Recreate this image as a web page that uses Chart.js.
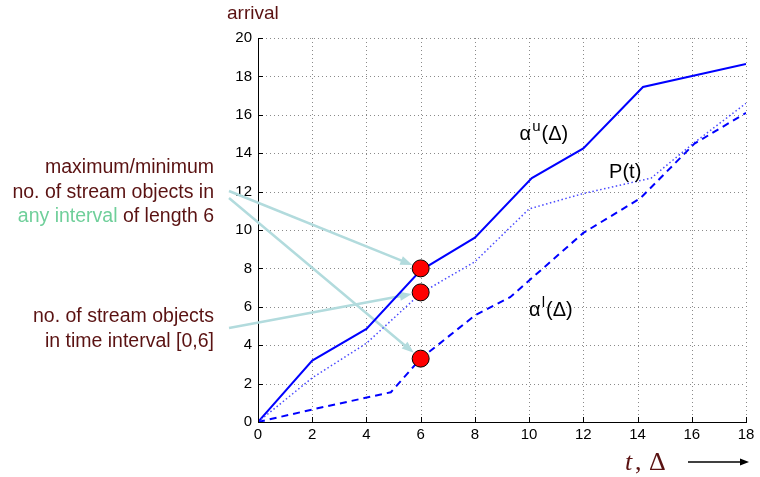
<!DOCTYPE html>
<html>
<head>
<meta charset="utf-8">
<script src="https://cdn.jsdelivr.net/npm/chart.js@4.4.1/dist/chart.umd.min.js"></script>
<style>
  html, body { margin: 0; padding: 0; background: #fff; }
  #wrap { width: 760px; height: 477px; }
</style>
</head>
<body>
<div id="wrap"><canvas id="c" width="760" height="477"></canvas></div>
<script>
// Upper arrival curve alpha^u(Delta)
const upperT = [0, 2, 4, 6, 8, 10.1, 12, 14.2, 18];
const upperV = [0, 3.2, 4.85, 7.9, 9.6, 12.7, 14.25, 17.45, 18.65];

// Cumulative stream P(t)
const streamT = [0, 2, 4, 6, 8, 10, 12, 14.5, 16, 18];
const streamV = [0, 2.3, 4.1, 6.7, 8.35, 11.1, 11.9, 12.7, 14.45, 16.6];

// Lower arrival curve alpha^l(Delta)
const lowerT = [0, 2, 4.9, 6, 8, 9.3, 12, 14.1, 16.1, 18];
const lowerV = [0, 0.65, 1.55, 3.3, 5.55, 6.5, 9.85, 11.65, 14.5, 16.1];

// Values at interval length 6: max, P(6), min
const markT = [6, 6, 6];
const markV = [8, 6.75, 3.3];

// Axis ticks
const xTicks = [0, 2, 4, 6, 8, 10, 12, 14, 16, 18];
const yTicks = [0, 2, 4, 6, 8, 10, 12, 14, 16, 18, 20];

const toXY = (xs, ys) => xs.map((x, i) => ({ x: x, y: ys[i] }));

const FONT = '"Liberation Sans", Arial, Helvetica, sans-serif';
const MAROON = '#5a1212';
const GREEN = '#6fcf9a';
const CALLOUT = '#b2dbdd';

// Dotted grid lines and callout arrows, both behind the curves
const underlay = {
  id: 'underlay',
  beforeDatasetsDraw(chart) {
    const { ctx, chartArea: a, scales: { x, y } } = chart;
    ctx.save();
    ctx.strokeStyle = '#8a8a8a';
    ctx.lineWidth = 1;
    ctx.setLineDash([1, 3]);
    ctx.beginPath();
    xTicks.forEach(v => {
      if (v === xTicks[0]) return;
      const px = Math.round(x.getPixelForValue(v)) + 0.5;
      ctx.moveTo(px, a.top);
      ctx.lineTo(px, a.bottom);
    });
    yTicks.forEach(v => {
      if (v === yTicks[0]) return;
      const py = Math.round(y.getPixelForValue(v)) + 0.5;
      ctx.moveTo(a.left, py);
      ctx.lineTo(a.right, py);
    });
    ctx.stroke();
    ctx.setLineDash([]);

    // callout arrows from the text to the marked values
    const arrow = (sx, sy, vx, vy) => {
      const cx = x.getPixelForValue(vx), cy = y.getPixelForValue(vy);
      const dx = cx - sx, dy = cy - sy;
      const len = Math.hypot(dx, dy);
      const ux = dx / len, uy = dy / len;
      const tx = cx - ux * 9, ty = cy - uy * 9;
      const hl = 12, hw = 4.5;
      ctx.strokeStyle = CALLOUT;
      ctx.fillStyle = CALLOUT;
      ctx.lineWidth = 2.5;
      ctx.beginPath();
      ctx.moveTo(sx, sy);
      ctx.lineTo(tx - ux * hl * 0.8, ty - uy * hl * 0.8);
      ctx.stroke();
      ctx.beginPath();
      ctx.moveTo(tx, ty);
      ctx.lineTo(tx - ux * hl - uy * hw, ty - uy * hl + ux * hw);
      ctx.lineTo(tx - ux * hl + uy * hw, ty - uy * hl - ux * hw);
      ctx.closePath();
      ctx.fill();
    };
    arrow(229, 191, markT[0], markV[0]);
    arrow(229, 198, markT[2], markV[2]);
    arrow(229, 328, markT[1], markV[1]);
    ctx.restore();
  }
};

// Inward tick marks on the left and bottom axes
const innerTicks = {
  id: 'innerTicks',
  afterDatasetsDraw(chart) {
    const { ctx, chartArea: a, scales: { x, y } } = chart;
    ctx.save();
    ctx.strokeStyle = '#000';
    ctx.lineWidth = 1;
    ctx.beginPath();
    xTicks.forEach(v => {
      const px = Math.round(x.getPixelForValue(v)) + 0.5;
      ctx.moveTo(px, a.bottom);
      ctx.lineTo(px, a.bottom - 5);
    });
    yTicks.forEach(v => {
      const py = Math.round(y.getPixelForValue(v)) + 0.5;
      ctx.moveTo(a.left, py);
      ctx.lineTo(a.left + 5, py);
    });
    ctx.stroke();
    ctx.restore();
  }
};

// Curve labels, callout text and axis captions
const annotations = {
  id: 'annotations',
  afterDraw(chart) {
    const { ctx, scales: { x, y } } = chart;
    ctx.save();

    // curve names
    const curveLabel = (base, sup, rest, vx, vy) => {
      let px = x.getPixelForValue(vx), py = y.getPixelForValue(vy);
      ctx.fillStyle = '#000';
      ctx.textBaseline = 'alphabetic';
      ctx.textAlign = 'left';
      ctx.font = '20px ' + FONT;
      ctx.fillText(base, px, py);
      px += ctx.measureText(base).width + 1;
      if (sup) {
        ctx.font = '15px ' + FONT;
        ctx.fillText(sup, px, py - 9);
        px += ctx.measureText(sup).width + 1;
      }
      ctx.font = '20px ' + FONT;
      ctx.fillText(rest, px, py);
    };
    curveLabel('\u03b1', 'u', '(\u0394)', 9.65, 14.7);
    curveLabel('\u03b1', 'l', '(\u0394)', 10.0, 5.5);
    curveLabel('P(t)', '', '', 12.95, 12.7);

    // callout text
    ctx.font = '19.5px ' + FONT;
    ctx.textBaseline = 'middle';
    ctx.textAlign = 'right';
    ctx.fillStyle = MAROON;
    const rx = 214;
    ctx.fillText('maximum/minimum', rx, 168);
    ctx.fillText('no. of stream objects in', rx, 193);
    const tail = ' of length 6';
    ctx.fillText(tail, rx, 217);
    ctx.fillStyle = GREEN;
    ctx.fillText('any interval', rx - ctx.measureText(tail).width, 217);
    ctx.fillStyle = MAROON;
    ctx.fillText('no. of stream objects', rx, 317);
    ctx.fillText('in time interval [0,6]', rx, 342);

    // y-axis caption
    ctx.font = '19px ' + FONT;
    ctx.textAlign = 'left';
    ctx.textBaseline = 'alphabetic';
    ctx.fillText('arrival', 227, 19);

    // x-axis caption
    ctx.font = 'italic 26px "Liberation Serif", "DejaVu Serif", serif';
    ctx.fillText('t', 625, 470);
    ctx.font = '26px "Liberation Serif", "DejaVu Serif", serif';
    ctx.fillText(',', 635, 470);
    ctx.fillText('\u0394', 649, 470);

    // direction arrow
    ctx.strokeStyle = '#000';
    ctx.fillStyle = '#000';
    ctx.lineWidth = 1.5;
    ctx.beginPath();
    ctx.moveTo(688, 462);
    ctx.lineTo(742, 462);
    ctx.stroke();
    ctx.beginPath();
    ctx.moveTo(749, 462);
    ctx.lineTo(740, 458.5);
    ctx.lineTo(740, 465.5);
    ctx.closePath();
    ctx.fill();

    ctx.restore();
  }
};

new Chart(document.getElementById('c'), {
  type: 'line',
  data: {
    datasets: [
      {
        label: 'alpha_u',
        data: toXY(upperT, upperV),
        borderColor: '#0000ff',
        borderWidth: 2,
        pointRadius: 0,
        tension: 0,
        order: 3
      },
      {
        label: 'P',
        data: toXY(streamT, streamV),
        borderColor: '#4a4aff',
        borderWidth: 1.5,
        borderDash: [1.5, 2.5],
        pointRadius: 0,
        tension: 0,
        order: 2
      },
      {
        label: 'alpha_l',
        data: toXY(lowerT, lowerV),
        borderColor: '#0000ff',
        borderWidth: 2,
        borderDash: [7, 5],
        pointRadius: 0,
        tension: 0,
        order: 1
      },
      {
        label: 'marks',
        data: toXY(markT, markV),
        showLine: false,
        pointRadius: 8.5,
        pointBackgroundColor: '#ff0000',
        pointBorderColor: '#000',
        pointBorderWidth: 1,
        order: 0
      }
    ]
  },
  options: {
    responsive: false,
    animation: false,
    events: [],
    layout: { padding: { left: 0, top: 38, right: 14, bottom: 0 } },
    plugins: { legend: { display: false }, tooltip: { enabled: false } },
    scales: {
      x: {
        type: 'linear',
        min: 0, max: 18,
        afterFit: s => { s.height = 55; },
        afterBuildTicks: s => { s.ticks = xTicks.map(v => ({ value: v })); },
        border: { display: true, color: '#000', width: 1 },
        grid: { drawOnChartArea: false, drawTicks: false },
        ticks: { color: '#000', font: { family: FONT, size: 15 }, padding: 4, maxRotation: 0 }
      },
      y: {
        min: 0, max: 20,
        afterFit: s => { s.width = 258; },
        afterBuildTicks: s => { s.ticks = yTicks.map(v => ({ value: v })); },
        border: { display: true, color: '#000', width: 1 },
        grid: { drawOnChartArea: false, drawTicks: false },
        ticks: { color: '#000', font: { family: FONT, size: 15 }, padding: 6 }
      }
    }
  },
  plugins: [underlay, innerTicks, annotations]
});
</script>
</body>
</html>
